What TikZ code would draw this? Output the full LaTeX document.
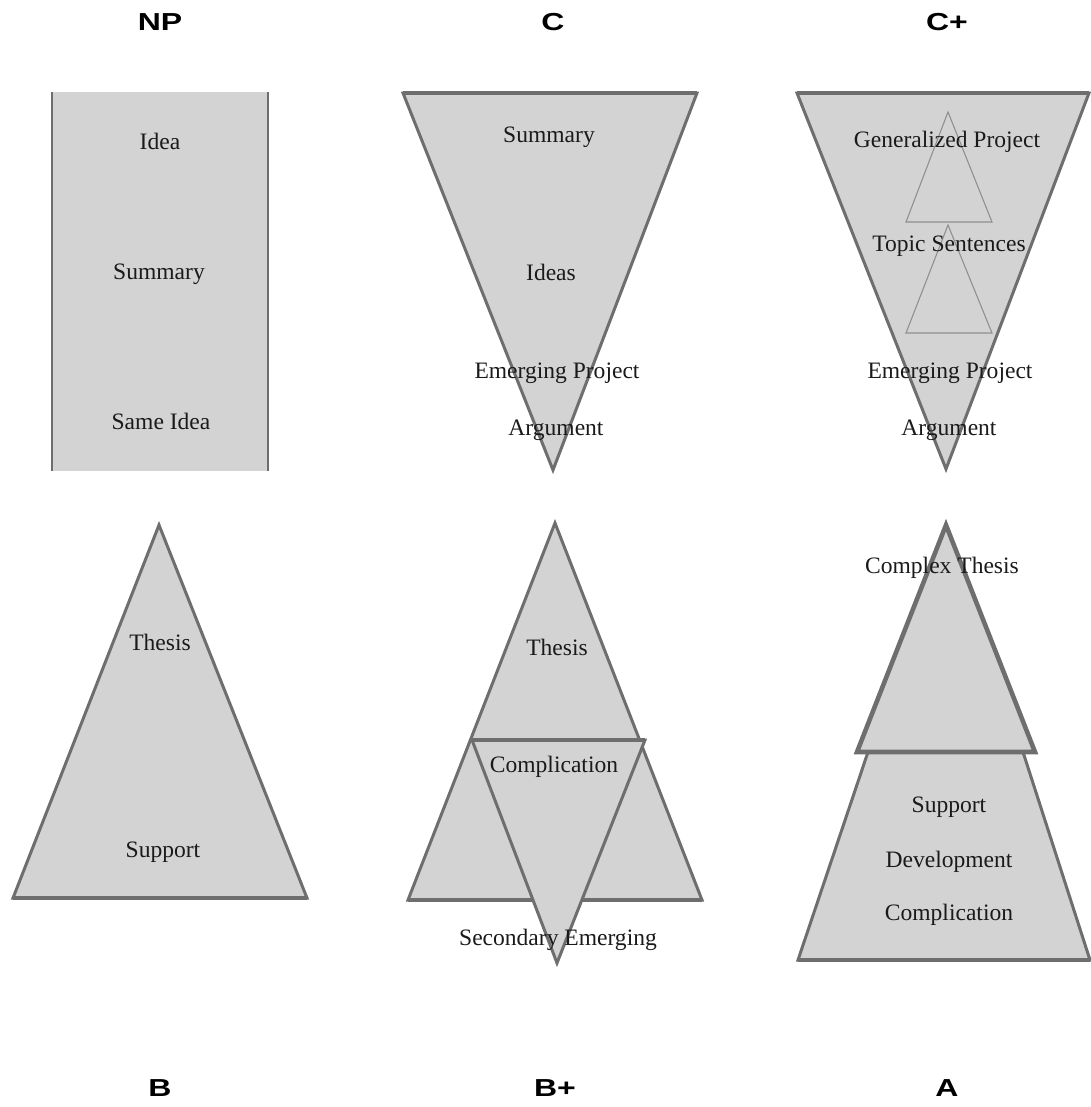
\documentclass[tikz,border=0pt]{standalone}
\usepackage{fontspec}
\setmainfont{Liberation Serif}
\newfontfamily\gradefont{Liberation Sans}
\definecolor{shapegray}{HTML}{D3D3D3}
\definecolor{edgegray}{HTML}{6E6E6E}
\definecolor{thingray}{HTML}{8E8E8E}
\definecolor{inkblack}{HTML}{1A1A1A}

\tikzset{
  word/.style={text=inkblack, font=\fontsize{13.4}{16}\selectfont, anchor=base, inner sep=0pt},
  grade/.style={text=black, font=\gradefont\bfseries\fontsize{14}{16}\selectfont, inner sep=0pt},
  block/.style={fill=shapegray, draw=edgegray, line width=1.7pt, line join=miter},
  heavy/.style={draw=edgegray, line width=2.4pt},
  faint/.style={draw=thingray, line width=0.6pt},
}

\begin{document}
\begin{tikzpicture}[x=0.02cm, y=-0.02cm]
\useasboundingbox (0,0) rectangle (1091,1107);

% ================================================================
% Grade titles
% ================================================================
\node[grade] (tNP) at (160,22.5) {\scalebox{1.3}[1]{NP}};
\node[grade] (tC)  at (553,22.5) {\scalebox{1.3}[1]{C}};
\node[grade] (tCp) at (947,22.5) {\scalebox{1.3}[1]{C+}};
\node[grade] (tB)  at (160,1088) {\scalebox{1.3}[1]{B}};
\node[grade] (tBp) at (555,1088) {\scalebox{1.3}[1]{B+}};
\node[grade] (tA)  at (947,1088) {\scalebox{1.3}[1]{A}};

% ================================================================
% NP: column
% ================================================================
\fill[shapegray] (52,92) rectangle (268,471);
\draw[edgegray, line width=1.7pt] (52,92) -- (52,471) (268,92) -- (268,471);

\node[word] (npIdea) at (160,149) {Idea};
\node[word] (npSum)  at (159,279) {Summary};
\node[word] (npSame) at (161,429) {Same Idea};

% ================================================================
% C: inverted triangle
% ================================================================
\coordinate (cL) at (403,93);
\coordinate (cR) at (697,93);
\coordinate (cT) at (553,470);
\draw[block] (cL) -- (cR) -- (cT) -- cycle;
\draw[heavy] (cL) -- (cR);

\node[word] (cSum)  at (549,142) {Summary};
\node[word] (cIdea) at (551,280) {Ideas};
\node[word] (cEmer) at (557,378) {Emerging Project};
\node[word] (cArg)  at (556,435) {Argument};

% ================================================================
% C+: inverted triangle with two small triangles
% ================================================================
\coordinate (cpL) at (797,93);
\coordinate (cpR) at (1089,93);
\coordinate (cpT) at (946,469);
\draw[block] (cpL) -- (cpR) -- (cpT) -- cycle;
\draw[heavy] (cpL) -- (cpR);

\draw[faint] (948,112) -- (992,222) -- (906,222) -- cycle;
\draw[faint] (948,225) -- (992,333) -- (906,333) -- cycle;

\node[word] (cpGen)   at (947,147) {Generalized Project};
\node[word] (cpTopic) at (949,251) {Topic Sentences};
\node[word] (cpEmer)  at (950,378) {Emerging Project};
\node[word] (cpArg)   at (949,435) {Argument};

% ================================================================
% B: triangle
% ================================================================
\coordinate (bT) at (159,525);
\coordinate (bL) at (13,898);
\coordinate (bR) at (307,898);
\draw[block] (bT) -- (bR) -- (bL) -- cycle;
\draw[heavy] (bL) -- (bR);

\node[word] (bThesis) at (160,650) {Thesis};
\node[word] (bSupp)   at (163,857) {Support};

% ================================================================
% B+: triangle crossed by an inverted triangle
% ================================================================
\coordinate (bpT) at (555,523);
\coordinate (bpL) at (408,900);
\coordinate (bpR) at (702,900);
\draw[block] (bpT) -- (bpR) -- (bpL) -- cycle;
\draw[heavy] (bpL) -- (bpR);

\coordinate (ivL) at (472,740);
\coordinate (ivR) at (645,740);
\coordinate (ivT) at (557,963);
\draw[block] (ivL) -- (ivR) -- (ivT) -- cycle;
\draw[heavy] (ivL) -- (ivR);

\node[word] (bpThesis) at (557,655) {Thesis};
\node[word] (bpComp)   at (554,772) {Complication};
\node[word] (bpSec)    at (558,945) {Secondary Emerging};

% ================================================================
% A: trapezoid with a triangle on top
% ================================================================
\coordinate (aBL) at (798,960);
\coordinate (aBR) at (1090,960);
\coordinate (aTL) at (868,752);
\coordinate (aTR) at (1023,752);
\draw[block] (aTL) -- (aTR) -- (aBR) -- (aBL) -- cycle;
\draw[heavy] (aBL) -- (aBR);

\coordinate (aT) at (946,525);
\coordinate (aL) at (857,752);
\coordinate (aR) at (1035,752);
\draw[block, line width=2.6pt] (aT) -- (aR) -- (aL) -- cycle;

\node[word] (aThesis) at (942,573) {Complex Thesis};
\node[word] (aSupp)   at (949,812) {Support};
\node[word] (aDev)    at (949,867) {Development};
\node[word] (aComp)   at (949,920) {Complication};

\end{tikzpicture}
\end{document}
